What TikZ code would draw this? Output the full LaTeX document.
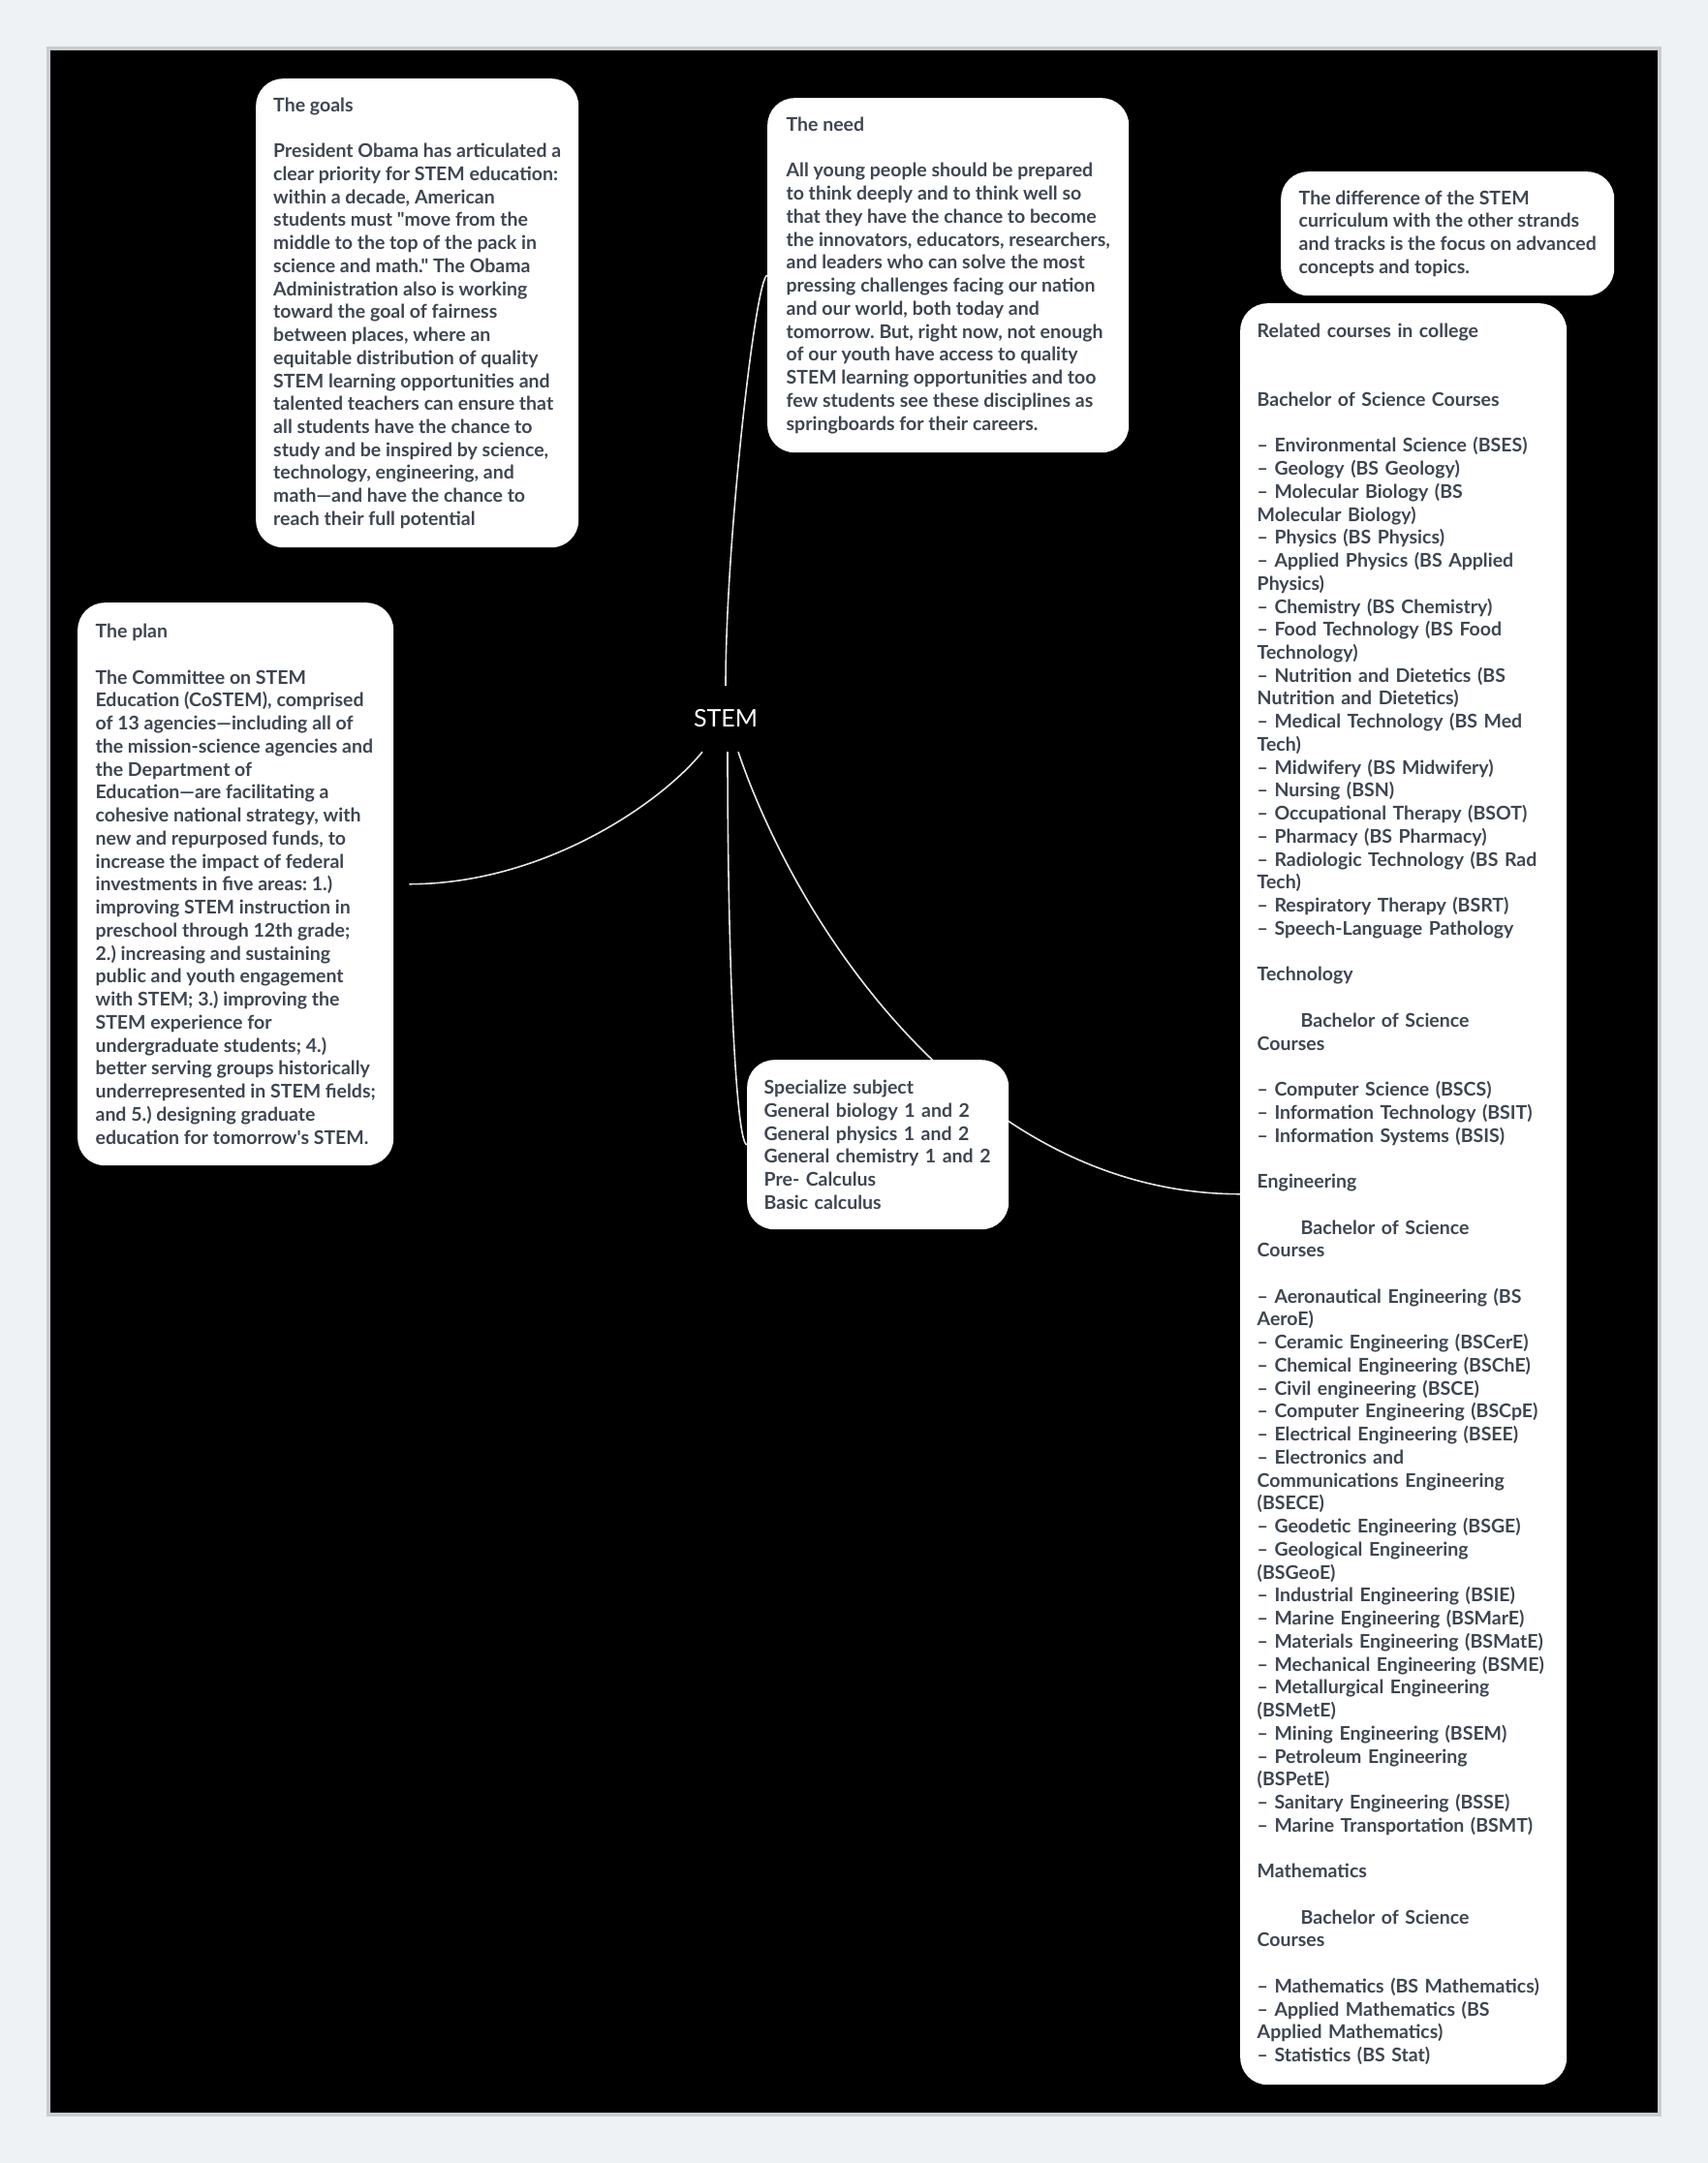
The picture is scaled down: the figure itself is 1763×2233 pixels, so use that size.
\documentclass[tikz,border=0pt]{standalone}
\usepackage{xcolor}
\usepackage{fontspec}
\setmainfont{Lato}[Ligatures=TeXOff]
\usepackage{tikz}
\usetikzlibrary{positioning,calc,backgrounds}
\frenchspacing

\definecolor{pagebg}{HTML}{EEF2F5}
\definecolor{framegrey}{HTML}{C8CDD1}
\definecolor{cardtext}{HTML}{3E4651}
\definecolor{linkgrey}{HTML}{E4E6E8}

\begin{document}
\begin{tikzpicture}[
  x=1pt, y=-1pt,
  card/.style={fill=white, rounded corners=28, text=cardtext, align=left, anchor=north west,
    inner xsep=17.5, inner ysep=0, font=\fontsize{19.5}{23.74}\selectfont\bfseries},
  hub/.style={text=white, minimum height=68, minimum width=70, inner sep=0,
    font=\fontsize{25}{30}\selectfont},
  link/.style={draw=linkgrey, line width=1.6}
]
% Page in px of the reference: 1 unit = 1pt, y runs downwards.

% --- Canvas and black board ---
\begin{scope}[on background layer]
  \path[use as bounding box, fill=pagebg] (0,0) rectangle (1763,2233);
  \draw[framegrey, line width=3.5, fill=black] (50,50) rectangle (1713,2183);
\end{scope}

% --- Cards ---
\node[card, minimum width=333, minimum height=484] (goals) at (264,81) {The goals\\ ~\\
President Obama has articulated a\\
clear priority for STEM education:\\
within a decade, American\\
students must "move from the\\
middle to the top of the pack in\\
science and math." The Obama\\
Administration also is working\\
toward the goal of fairness\\
between places, where an\\
equitable distribution of quality\\
STEM learning opportunities and\\
talented teachers can ensure that\\
all students have the chance to\\
study and be inspired by science,\\
technology, engineering, and\\
math—and have the chance to\\
reach their full potential};

\node[card, minimum width=373, minimum height=366] (need) at (792,101) {The need\\ ~\\
All young people should be prepared\\
to think deeply and to think well so\\
that they have the chance to become\\
the innovators, educators, researchers,\\
and leaders who can solve the most\\
pressing challenges facing our nation\\
and our world, both today and\\
tomorrow. But, right now, not enough\\
of our youth have access to quality\\
STEM learning opportunities and too\\
few students see these disciplines as\\
springboards for their careers.};

\node[card, minimum width=344, minimum height=128] (diff) at (1322,177) {The difference of the STEM\\
curriculum with the other strands\\
and tracks is the focus on advanced\\
concepts and topics.};

\node[card, text width=302, minimum height=1839] (related) at (1280,313) {Related courses in college\\ ~\\ ~\\
Bachelor of Science Courses\\ ~\\
– Environmental Science (BSES)\\
– Geology (BS Geology)\\
– Molecular Biology (BS\\
Molecular Biology)\\
– Physics (BS Physics)\\
– Applied Physics (BS Applied\\
Physics)\\
– Chemistry (BS Chemistry)\\
– Food Technology (BS Food\\
Technology)\\
– Nutrition and Dietetics (BS\\
Nutrition and Dietetics)\\
– Medical Technology (BS Med\\
Tech)\\
– Midwifery (BS Midwifery)\\
– Nursing (BSN)\\
– Occupational Therapy (BSOT)\\
– Pharmacy (BS Pharmacy)\\
– Radiologic Technology (BS Rad\\
Tech)\\
– Respiratory Therapy (BSRT)\\
– Speech-Language Pathology\\ ~\\
Technology\\ ~\\
\hspace*{45pt}Bachelor of Science\\
Courses\\ ~\\
– Computer Science (BSCS)\\
– Information Technology (BSIT)\\
– Information Systems (BSIS)\\ ~\\
Engineering\\ ~\\
\hspace*{45pt}Bachelor of Science\\
Courses\\ ~\\
– Aeronautical Engineering (BS\\
AeroE)\\
– Ceramic Engineering (BSCerE)\\
– Chemical Engineering (BSChE)\\
– Civil engineering (BSCE)\\
– Computer Engineering (BSCpE)\\
– Electrical Engineering (BSEE)\\
– Electronics and\\
Communications Engineering\\
(BSECE)\\
– Geodetic Engineering (BSGE)\\
– Geological Engineering\\
(BSGeoE)\\
– Industrial Engineering (BSIE)\\
– Marine Engineering (BSMarE)\\
– Materials Engineering (BSMatE)\\
– Mechanical Engineering (BSME)\\
– Metallurgical Engineering\\
(BSMetE)\\
– Mining Engineering (BSEM)\\
– Petroleum Engineering\\
(BSPetE)\\
– Sanitary Engineering (BSSE)\\
– Marine Transportation (BSMT)\\ ~\\
Mathematics\\ ~\\
\hspace*{45pt}Bachelor of Science\\
Courses\\ ~\\
– Mathematics (BS Mathematics)\\
– Applied Mathematics (BS\\
Applied Mathematics)\\
– Statistics (BS Stat)};

\node[card, minimum width=326, minimum height=581] (plan) at (80,622) {The plan\\ ~\\
The Committee on STEM\\
Education (CoSTEM), comprised\\
of 13 agencies—including all of\\
the mission-science agencies and\\
the Department of\\
Education—are facilitating a\\
cohesive national strategy, with\\
new and repurposed funds, to\\
increase the impact of federal\\
investments in five areas: 1.)\\
improving STEM instruction in\\
preschool through 12th grade;\\
2.) increasing and sustaining\\
public and youth engagement\\
with STEM; 3.) improving the\\
STEM experience for\\
undergraduate students; 4.)\\
better serving groups historically\\
underrepresented in STEM fields;\\
and 5.) designing graduate\\
education for tomorrow's STEM.};

\node[card, text width=235, minimum height=175] (spec) at (771,1094) {Specialize subject\\
General biology 1 and 2\\
General physics 1 and 2\\
General chemistry 1 and 2\\
Pre- Calculus\\
Basic calculus};

% --- Central topic ---
\node[hub] (stem) at (749,742) {STEM};

% --- Branches (behind the cards) ---
\begin{scope}[on background layer]
  \draw[link] (stem.north) .. controls +(0,-148) and +(-12,0) .. (need.west);
  \draw[link] ([xshift=-24]stem.south) .. controls +(-44,54) and +(138,0) .. ([xshift=16]plan.east);
  \draw[link] ([xshift=2]stem.south) .. controls +(0,224) and +(-11,0) .. (spec.west);
  \draw[link] ([xshift=13]stem.south) .. controls +(59,174) and +(-280,0) .. (related.west);
\end{scope}

\end{tikzpicture}
\end{document}
